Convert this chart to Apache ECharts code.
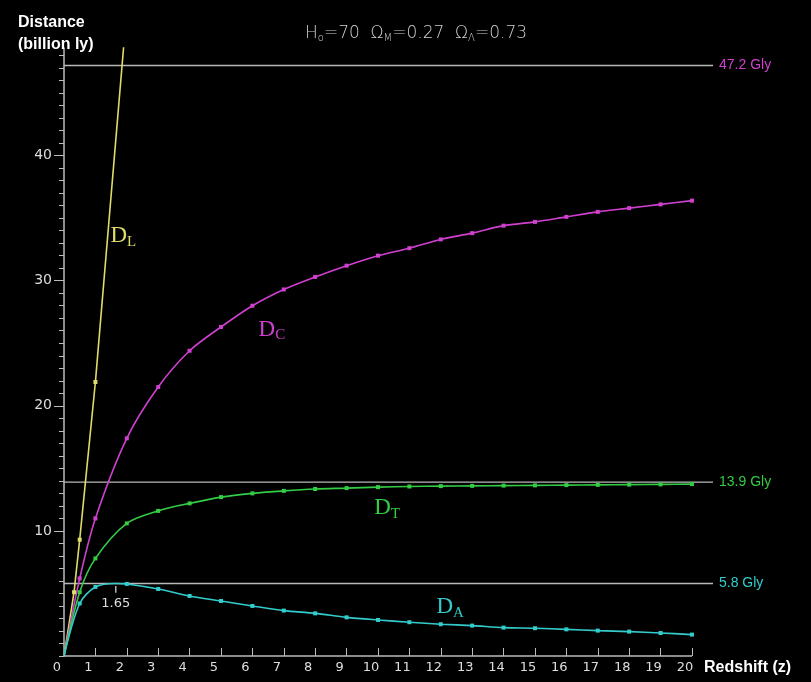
<!DOCTYPE html>
<html>
<head>
<meta charset="utf-8">
<script src="https://cdn.jsdelivr.net/npm/echarts@6/dist/echarts.min.js"></script>
<style>html,body{margin:0;padding:0;background:#000;}#c{width:811px;height:682px;}</style>
</head>
<body>
<div id="c"></div>
<script>
// ---- data ----
const zMain = [0,0.5,1,2,3,4,5,6,7,8,9,10,11,12,13,14,15,16,17,18,19,20];
const dC = [0,6.2,11.0,17.4,21.5,24.4,26.3,28.0,29.3,30.3,31.2,32.0,32.6,33.3,33.8,34.4,34.7,35.1,35.5,35.8,36.1,36.4];
const dT = [0,5.1,7.8,10.6,11.6,12.2,12.7,13.0,13.2,13.35,13.42,13.5,13.55,13.58,13.6,13.62,13.64,13.66,13.68,13.7,13.72,13.74];
const zA = [0,0.5,1,1.65,2,3,4,5,6,7,8,9,10,11,12,13,14,15,16,17,18,19,20];
const dA = [0,4.2,5.52,5.8,5.76,5.36,4.8,4.4,4.0,3.63,3.41,3.09,2.88,2.7,2.54,2.43,2.27,2.22,2.13,2.03,1.95,1.84,1.71];
const zL = [0,0.32,0.5,1,2];
const dL = [0,5.1,9.3,21.9,51.7];
const hLevels = [47.2, 13.9, 5.8];
const hLabels = ['47.2 Gly','13.9 Gly','5.8 Gly'];
const hEndZ = 20.67;
const zAxisEnd = 20;
const peakZ = 1.65;
const peakTick = [5.6, 5.05];
const xTicks = [0,1,2,3,4,5,6,7,8,9,10,11,12,13,14,15,16,17,18,19,20];
const yMinor = Array.from({length:49},(_,i)=>i);
const yMajor = [10,20,30,40];
const curveLabels = [
  {name:'L', coord:[1.89,33.6], color:'#e0dc6a'},
  {name:'C', coord:[6.62,26.1], color:'#d040d0'},
  {name:'T', coord:[10.29,11.84], color:'#33cc44'},
  {name:'A', coord:[12.3,3.9], color:'#33cccc'}
];
// ---- colours ----
const colL = '#e0dc6a', colC = '#d040d0', colT = '#33cc44', colA = '#33cccc';
const hColors = [colC, colT, colA];

function pts(zs, ds){
  return zs.map((z,i)=>({value:[z,ds[i]], symbolSize: (z===0 || z===peakZ) ? 0 : 4}));
}
function curve(name, zs, ds, color, smooth){
  return {
    name, type:'line', data: pts(zs, ds), smooth: smooth,
    symbol:'rect', itemStyle:{color}, lineStyle:{color, width:1.6},
    z: 5, silent:true
  };
}

const chart = echarts.init(document.getElementById('c'));
const series = [];
// x-axis baseline (ends at z = 20, while the plot area extends to the reference lines' end)
series.push({
  type:'line', data:[[0,0],[zAxisEnd,0]], symbol:'none', silent:true, clip:false,
  lineStyle:{color:'#bbbbbb', width:1.5}, z:6
});
hLevels.forEach((h,i)=>{
  series.push({
    type:'line', data:[[0,h],[hEndZ,h]], symbol:'none', silent:true,
    lineStyle:{color:'#b8b8b8', width:1.4}, z:2,
    endLabel:{show:true, formatter: hLabels[i], color: hColors[i], fontSize:14,
      fontFamily:'Liberation Sans, Arial, sans-serif', distance:6}
  });
});
series.push(curve('DL', zL, dL, colL, false));
series.push(curve('DC', zMain, dC, colC, 0.3));
series.push(curve('DT', zMain, dT, colT, 0.3));
const sA = curve('DA', zA, dA, colA, 0.3);
sA.markPoint = {
  symbol:'circle', symbolSize:0, silent:true,
  data: curveLabels.map(c=>({
    coord:c.coord,
    label:{show:true, position:'inside', formatter:'{d|D}{s|'+c.name+'}',
      rich:{
        d:{fontFamily:'Liberation Serif, Times New Roman, serif', fontSize:23, color:c.color},
        s:{fontFamily:'Liberation Serif, Times New Roman, serif', fontSize:15, color:c.color, padding:[12,0,0,0]}
      }}
  }))
};
series.push(sA);
series.push({
  type:'line',
  data:[{value:[peakZ,peakTick[0]]},{value:[peakZ,peakTick[1]], label:{show:true, position:'bottom', distance:4, formatter:'1.65', color:'#dddddd', fontSize:13, fontFamily:'DejaVu Sans, sans-serif'}}],
  symbol:'circle', symbolSize:0, silent:true, lineStyle:{color:'#dddddd', width:1.2}, z:3
});

chart.setOption({
  backgroundColor:'#000',
  animation:false,
  title:[
    {text:'Distance\n(billion ly)', left:13, top:7,
      textStyle:{color:'#ffffff', fontSize:16, fontWeight:'bold', lineHeight:22, fontFamily:'Liberation Sans, Arial, sans-serif'}},
    {text:'Redshift (z)', left:699, top:655,
      textStyle:{color:'#ffffff', fontSize:16, fontWeight:'bold', fontFamily:'Liberation Sans, Arial, sans-serif'}},
    {text:'H{s|o}=70  Ω{s|M}=0.27  Ω{s|Λ}=0.73', left:300, top:19,
      textStyle:{color:'#d0d0d0', fontSize:17, fontFamily:'DejaVu Sans, sans-serif', fontWeight:'lighter',
        rich:{s:{fontSize:10, color:'#d0d0d0', padding:[9,0,0,0], fontFamily:'DejaVu Sans, sans-serif'}}}}
  ],
  grid:{left:64, right:98, top:48, bottom:26, containLabel:false},
  xAxis:{
    type:'value', min:0, max:hEndZ,
    axisLine:{show:false},
    axisTick:{show:true, inside:true, length:8, lineStyle:{color:'#bbbbbb'}, customValues:xTicks},
    axisLabel:{show:true, color:'#dddddd', fontSize:13, fontFamily:'DejaVu Sans, sans-serif', margin:5,
      padding:[0,14,0,0], customValues:xTicks},
    splitLine:{show:false}
  },
  yAxis:[{
    type:'value', min:0, max:48.6, interval:1,
    axisLine:{show:true, lineStyle:{color:'#bbbbbb', width:1.5}},
    axisTick:{show:true, inside:false, length:5, lineStyle:{color:'#bbbbbb'}, customValues:yMinor},
    axisLabel:{show:false},
    splitLine:{show:false}
  },{
    type:'value', min:0, max:48.6, interval:10, position:'left', offset:0,
    axisLine:{show:false},
    axisTick:{show:true, inside:false, length:10, lineStyle:{color:'#bbbbbb'}, customValues:yMajor},
    axisLabel:{show:true, color:'#dddddd', fontSize:14, fontFamily:'DejaVu Sans, sans-serif', margin:12, customValues:yMajor},
    splitLine:{show:false}
  }],
  series: series
});
</script>
</body>
</html>
